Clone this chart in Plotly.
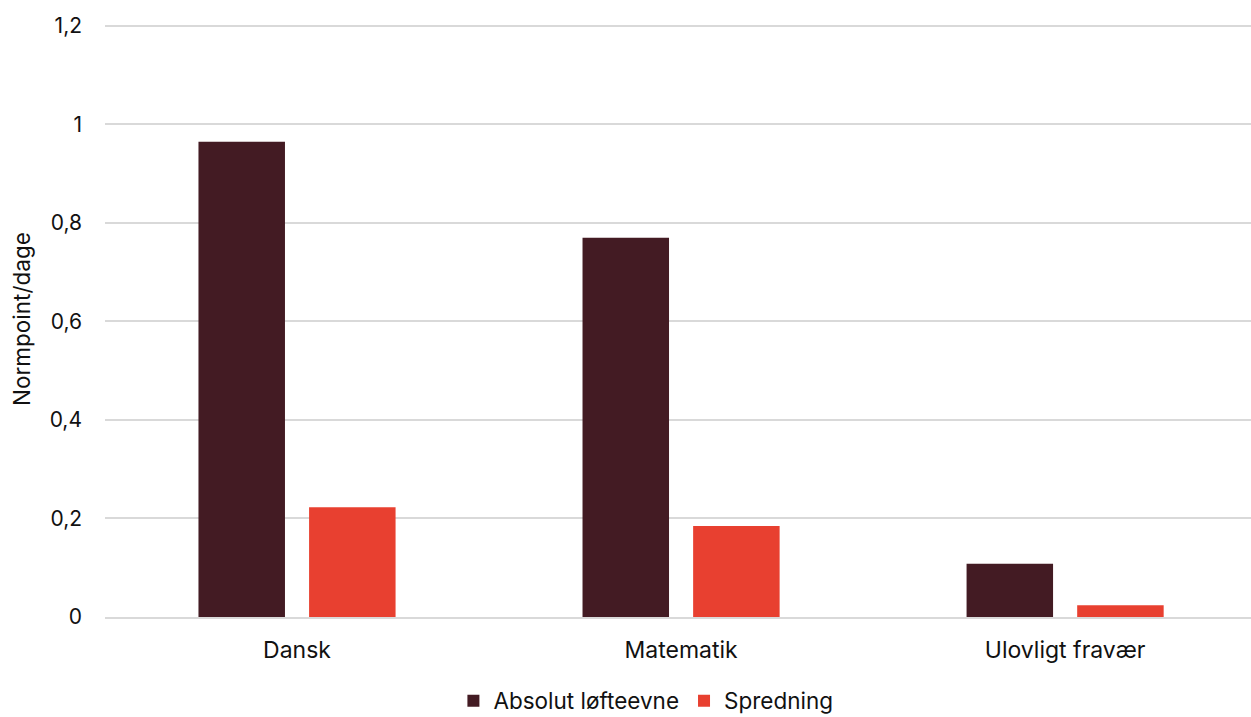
import plotly.graph_objects as go

categories = ["Dansk", "Matematik", "Ulovligt fravær"]
absolut = [0.965, 0.770, 0.108]
spredning = [0.223, 0.185, 0.024]
series_names = ["Absolut løfteevne", "Spredning"]
tick_vals = [0, 0.2, 0.4, 0.6, 0.8, 1, 1.2]
tick_text = ["0", "0,2", "0,4", "0,6", "0,8", "1", "1,2"]

FONT = "Inter, DejaVu Sans, sans-serif"

fig = go.Figure()
fig.add_trace(go.Bar(x=categories, y=absolut, name=series_names[0],
                     marker=dict(color="#431B23", line=dict(width=0))))
fig.add_trace(go.Bar(x=categories, y=spredning, name=series_names[1],
                     marker=dict(color="#E84030", line=dict(width=0))))

fig.update_layout(
    width=1251, height=717,
    barmode="group", bargap=0.424, bargroupgap=0.218,
    plot_bgcolor="white", paper_bgcolor="white",
    margin=dict(l=105, r=0, t=21, b=100, autoexpand=False),
    font=dict(family=FONT, size=23, color="#111111"),
    separators=",.",
    legend=dict(orientation="h", x=0.472, xanchor="center", y=-0.141, yanchor="middle",
                font=dict(size=22.5), traceorder="normal", itemwidth=30),
    yaxis=dict(range=[0, 1.21], tickvals=tick_vals, ticktext=tick_text,
               showgrid=True, gridcolor="#d9d9d9", gridwidth=1.5, zeroline=False,
               showline=False, ticks="", ticklabelstandoff=22, automargin=False,
               tickfont=dict(size=21),
               title=dict(text="Normpoint/dage", font=dict(size=22.5), standoff=12)),
    xaxis=dict(range=[-0.5, 2.484], showline=True, linecolor="#d9d9d9", linewidth=2,
               ticks="", tickfont=dict(size=23), automargin=False, ticklabelstandoff=11),
)

fig.write_html("out.html", config={"displayModeBar": False},
               post_script="document.body.style.margin='0';document.body.style.padding='0';")
